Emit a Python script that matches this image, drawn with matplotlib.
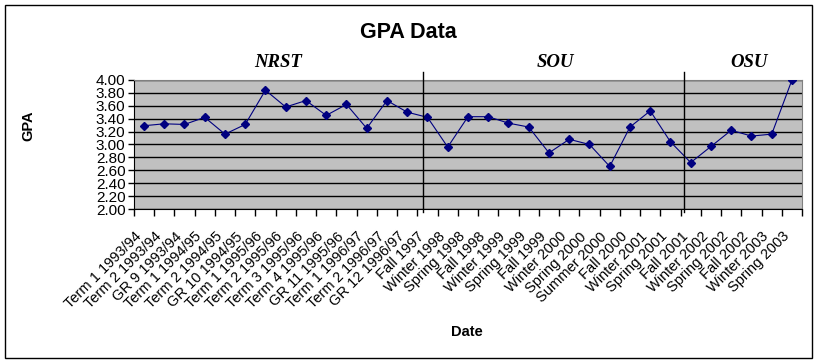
import numpy as np
import matplotlib
matplotlib.use("Agg")
import matplotlib.pyplot as plt
import matplotlib.transforms as mtransforms
from matplotlib.patches import Rectangle
from matplotlib.ticker import FixedLocator, NullFormatter

plt.rcParams['font.family'] = ['Liberation Sans', 'DejaVu Sans']

dates = [
    "Term 1 1993/94", "Term 2 1993/94", "GR 9 1993/94",
    "Term 1 1994/95", "Term 2 1994/95", "GR 10 1994/95",
    "Term 1 1995/96", "Term 2 1995/96", "Term 3 1995/96", "Term 4 1995/96",
    "GR 11 1995/96", "Term 1 1996/97", "Term 2 1996/97", "GR 12 1996/97",
    "Fall 1997", "Winter 1998", "Spring 1998", "Fall 1998", "Winter 1999",
    "Spring 1999", "Fall 1999", "Winter 2000", "Spring 2000", "Summer 2000",
    "Fall 2000", "Winter 2001", "Spring 2001", "Fall 2001", "Winter 2002",
    "Spring 2002", "Fall 2002", "Winter 2003", "Spring 2003",
]
gpa = [
    3.29, 3.32, 3.31, 3.42, 3.16, 3.31, 3.84, 3.58, 3.68, 3.45, 3.62, 3.25,
    3.68, 3.50,
    3.42, 2.96, 3.43, 3.43, 3.33, 3.27, 2.87, 3.08, 3.00, 2.66, 3.27, 3.52,
    3.04,
    2.72, 2.97, 3.22, 3.13, 3.16, 4.00,
]
schools = ["NRST", "SOU", "OSU"]
school_centers = [6.6, 20.3, 29.9]
school_breaks = [13.78, 26.67]

fig = plt.figure(figsize=(8.16, 3.63), dpi=100)
ax = fig.add_axes([0.164, 0.424, 0.819, 0.356])

x = np.arange(len(dates))
ax.set_facecolor('#C0C0C0')
ax.plot(x, gpa, color='#000080', lw=0.8, marker='D', ms=4, zorder=3)

ax.set_xlim(-0.5, len(dates) - 0.5)
ax.set_ylim(2.0, 4.0)
ax.set_yticks(np.arange(2.0, 4.01, 0.2))
ax.set_yticklabels([f"{v:.2f}" for v in np.arange(2.0, 4.01, 0.2)], fontsize=11)
ax.yaxis.grid(True, color='black', lw=1)
ax.set_axisbelow(True)

# category labels at centres, tick marks on the boundaries
ax.set_xticks(x)
ax.set_xticklabels(dates, rotation=45, ha='right', va='top',
                   rotation_mode='anchor', fontsize=10.5)
ax.tick_params(axis='x', which='major', length=0, pad=6)
shift = mtransforms.ScaledTranslation(-10 / 100, -12 / 100, fig.dpi_scale_trans)
for lab in ax.get_xticklabels():
    lab.set_transform(lab.get_transform() + shift)
ax.xaxis.set_minor_locator(FixedLocator(np.arange(-0.5, len(dates), 1)))
ax.xaxis.set_minor_formatter(NullFormatter())
ax.tick_params(axis='x', which='minor', length=5, width=1, color='black')
ax.tick_params(axis='y', length=4, width=1, pad=2)

for s in ['top', 'right']:
    ax.spines[s].set_color('#808080')
for s in ['left', 'bottom']:
    ax.spines[s].set_color('black')

# school separators and names
for b in school_breaks:
    ax.plot([b, b], [1.95, 4.12], color='black', lw=1, clip_on=False, zorder=4)
for name, c in zip(schools, school_centers):
    ax.text(c, 4.14, name, ha='center', va='bottom', fontsize=13.5,
            family='Liberation Serif', weight='bold', style='italic')

fig.text(408 / 816, 1 - 32 / 363, "GPA Data", ha='center', va='center',
         fontsize=15.5, weight='bold')
fig.text(28 / 816, 1 - 126 / 363, "GPA", ha='center', va='center',
         fontsize=10.5, weight='bold', rotation=90)
fig.text(467 / 816, 1 - 332 / 363, "Date", ha='center', va='center',
         fontsize=10.5, weight='bold')

fig.patches.append(Rectangle((5 / 816, 1 - 358 / 363), 807 / 816, 353 / 363,
                             transform=fig.transFigure, fill=False,
                             edgecolor='black', lw=1))

fig.savefig("out.png", dpi=100)
